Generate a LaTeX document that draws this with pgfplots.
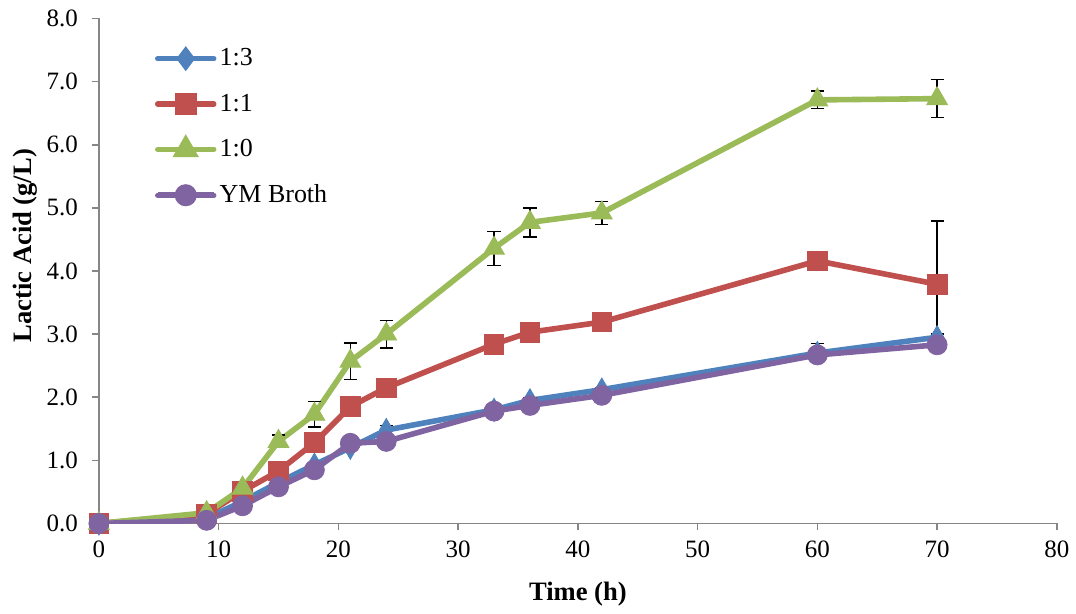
\documentclass[border=0pt]{standalone}
\usepackage{pgfplots}
\pgfplotsset{compat=1.18}
\usepackage{fontspec}
\setmainfont{Liberation Serif}
\definecolor{cblue}{HTML}{4F81BD}
\definecolor{cred}{HTML}{C0504D}
\definecolor{cgreen}{HTML}{9BBB59}
\definecolor{cpurple}{HTML}{8064A2}
\definecolor{axgray}{HTML}{868686}
\pgfplotsset{
  leg/.style={legend image code/.code={
    \draw[line width=2.6pt, line cap=round] (0cm,0cm) -- (0.99cm,0cm);
    \draw[mark repeat=2,mark phase=2, mark options={scale=#1}] plot coordinates {(0cm,0cm) (0.495cm,0cm) (0.99cm,0cm)};
  }},
}
\begin{document}
\begin{tikzpicture}
\begin{axis}[
  scale only axis,
  width=479.5pt, height=252.75pt,
  xmin=0, xmax=80, ymin=0, ymax=8,
  xtick={0,10,...,80}, ytick={0,1,...,8},
  axis lines=left,
  axis line style={axgray, line width=0.8pt, -},
  tick style={axgray, line width=0.8pt},
  tick align=outside,
  major tick length=3.5pt,
  /pgf/number format/assume math mode=true,
  ticklabel style={font=\fontsize{12.5}{14}\selectfont, black},
  yticklabel style={xshift=-3.5pt, /pgf/number format/fixed, /pgf/number format/fixed zerofill, /pgf/number format/precision=1},
  xticklabel style={yshift=-1.5pt},
  xlabel={\textbf{Time (h)}},
  ylabel={\textbf{Lactic Acid (g/L)}},
  label style={font=\fontsize{13.3}{15}\selectfont},
  xlabel style={at={(axis description cs:0.5,-0.1405)}, anchor=center},
  ylabel style={at={(axis description cs:-0.0772,0.55)}, anchor=center},
  legend style={draw=none, fill=none, at={(0.058,0.957)}, anchor=north west,
    font=\fontsize{13}{15}\selectfont, row sep=8.6pt, inner xsep=0pt,
    nodes={inner xsep=1.5pt}},
  legend cell align=left,
  every axis plot/.append style={line width=2.8pt},
  error bars/error bar style={black, line width=0.7pt, solid},
  error bars/error mark options={black, line width=0.7pt, rotate=90, mark size=3.3pt},
]
\coordinate (bbsw) at (rel axis cs:-0.1032,-0.1721);
\coordinate (bbne) at (rel axis cs:1.0188,1.0366);
\addplot[color=cblue, mark=diamond*, mark size=5.8pt, mark options={solid, fill=cblue, line width=0.4pt, xscale=0.78}, leg=0.68,
  error bars/.cd, y dir=both, y explicit]
  coordinates {
  (0,0) +- (0,0)
  (9,0.08) +- (0,0)
  (12,0.35) +- (0,0.03)
  (15,0.65) +- (0,0.03)
  (18,0.93) +- (0,0.04)
  (21,1.20) +- (0,0.04)
  (24,1.48) +- (0,0.07)
  (33,1.80) +- (0,0.03)
  (36,1.95) +- (0,0.04)
  (42,2.12) +- (0,0.03)
  (60,2.70) +- (0,0.15)
  (70,2.95) +- (0,0.05)
  };
\addlegendentry{1:3}
\addplot[color=cred, mark=square*, mark size=4.9pt, mark options={solid, fill=cred, line width=0.4pt}, leg=0.82,
  error bars/.cd, y dir=both, y explicit]
  coordinates {
  (0,0) +- (0,0)
  (9,0.15) +- (0,0.02)
  (12,0.51) +- (0,0.04)
  (15,0.83) +- (0,0.04)
  (18,1.28) +- (0,0.05)
  (21,1.85) +- (0,0.05)
  (24,2.15) +- (0,0.05)
  (33,2.84) +- (0,0.05)
  (36,3.03) +- (0,0.05)
  (42,3.19) +- (0,0.05)
  (60,4.16) +- (0,0.05)
  (70,3.79) +- (0,1.0)
  };
\addlegendentry{1:1}
\addplot[color=cgreen, mark=triangle*, mark size=6pt, mark options={solid, fill=cgreen, line width=0.4pt}, leg=0.8,
  error bars/.cd, y dir=both, y explicit]
  coordinates {
  (0,0) +- (0,0)
  (9,0.17) +- (0,0.03)
  (12,0.56) +- (0,0.09)
  (15,1.30) +- (0,0.10)
  (18,1.73) +- (0,0.20)
  (21,2.57) +- (0,0.29)
  (24,3.00) +- (0,0.22)
  (33,4.36) +- (0,0.27)
  (36,4.77) +- (0,0.23)
  (42,4.92) +- (0,0.18)
  (60,6.71) +- (0,0.14)
  (70,6.73) +- (0,0.30)
  };
\addlegendentry{1:0}
\addplot[color=cpurple, mark=*, mark size=5pt, mark options={solid, fill=cpurple, line width=0.4pt}, leg=0.82,
  error bars/.cd, y dir=both, y explicit]
  coordinates {
  (0,0) +- (0,0)
  (9,0.05) +- (0,0)
  (12,0.28) +- (0,0.02)
  (15,0.58) +- (0,0.03)
  (18,0.85) +- (0,0.04)
  (21,1.27) +- (0,0.04)
  (24,1.30) +- (0,0.04)
  (33,1.78) +- (0,0.04)
  (36,1.87) +- (0,0.04)
  (42,2.03) +- (0,0.04)
  (60,2.67) +- (0,0.05)
  (70,2.83) +- (0,0.05)
  };
\addlegendentry{YM Broth}
\end{axis}
\path (bbsw) rectangle (bbne);
\end{tikzpicture}
\end{document}
